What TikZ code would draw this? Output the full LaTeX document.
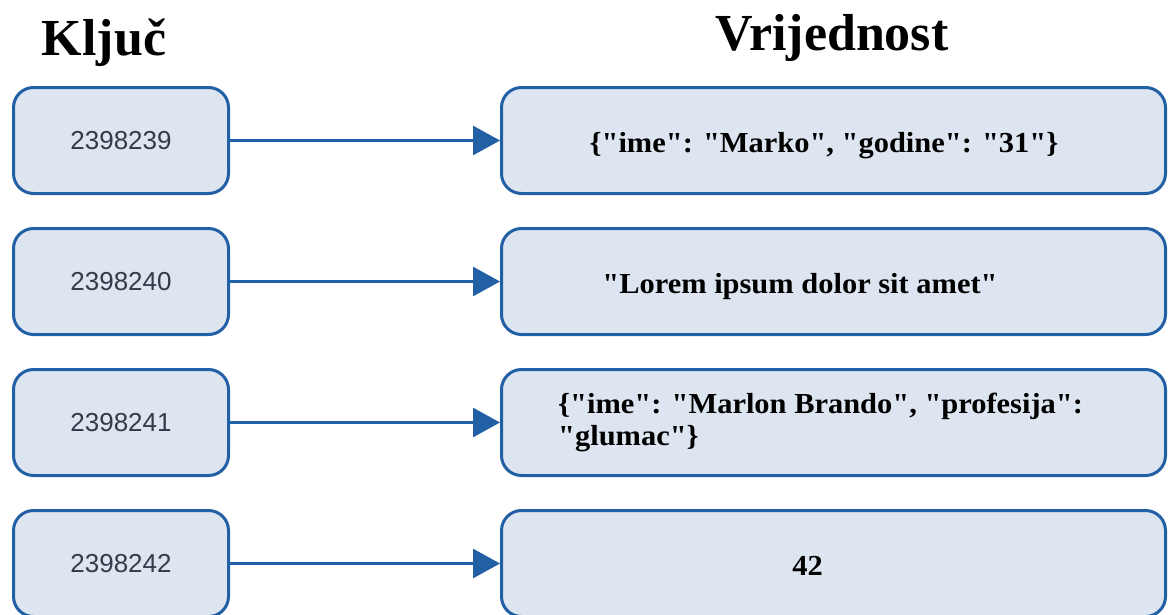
\documentclass[tikz,border=0pt]{standalone}
\usepackage{fontspec}
\usepackage{graphicx}
\usetikzlibrary{arrows.meta}
\newfontfamily\tnr{Liberation Serif}
\newfontfamily\ari{Liberation Sans}
\definecolor{bord}{HTML}{2260A6}
\definecolor{boxfill}{HTML}{DDE5F0}
\definecolor{keytxt}{HTML}{343A4A}
\newcommand{\valfont}{\tnr\bfseries\fontsize{29}{32}\selectfont}
\newcommand{\wide}[1]{\scalebox{1.05}[1]{#1}}
\tikzset{
  x=1pt, y=-1pt,
  keybox/.style={draw=bord, line width=3pt, fill=boxfill, rounded corners=20pt,
    minimum width=215pt, minimum height=106pt, inner sep=0pt,
    font=\ari\fontsize{26}{30}\selectfont, text=keytxt},
  valbox/.style={draw=bord, line width=3pt, fill=boxfill, rounded corners=20pt,
    minimum width=664pt, minimum height=106pt, inner sep=0pt},
  valtext/.style={anchor=base, inner sep=0pt, font=\valfont, text=black},
  header/.style={anchor=base, inner sep=0pt, font=\tnr\bfseries\fontsize{52}{60}\selectfont},
  link/.style={draw=bord, line width=2.8pt, -{Triangle[length=27pt, width=29pt]}, shorten >=0pt}
}
\begin{document}
\begin{tikzpicture}
\useasboundingbox[fill=white] (0,0) rectangle (1168,614);
% headers
\node[header] (hk) at (104,55) {Ključ};
\node[header] (hv) at (832,50) {Vrijednost};
% key boxes
\node[keybox] (k1) at (121,140.5) {2398239};
\node[keybox] (k2) at (121,281.5) {2398240};
\node[keybox] (k3) at (121,422.5) {2398241};
\node[keybox] (k4) at (121,563.5) {2398242};
% value boxes
\node[valbox] (v1) at (833.5,140.5) {};
\node[valbox] (v2) at (833.5,281.5) {};
\node[valbox] (v3) at (833.5,422.5) {};
\node[valbox] (v4) at (833.5,563.5) {};
% value texts
\node[valtext] (t1) at (824,152) {\wide{\{"ime": "Marko", "godine": "31"\}}};
\node[valtext] (t2) at (800,293) {\wide{"Lorem ipsum dolor sit amet"}};
\node[valtext, anchor=base west] (t3a) at (558,413) {\wide{\{"ime": "Marlon Brando", "profesija":}};
\node[valtext, anchor=base west] (t3b) at (558,445) {\wide{"glumac"\}}};
\node[valtext] (t4) at (807.5,575) {\wide{42}};
% connectors
\draw[link] (k1) -- (v1);
\draw[link] (k2) -- (v2);
\draw[link] (k3) -- (v3);
\draw[link] (k4) -- (v4);
\end{tikzpicture}
\end{document}
